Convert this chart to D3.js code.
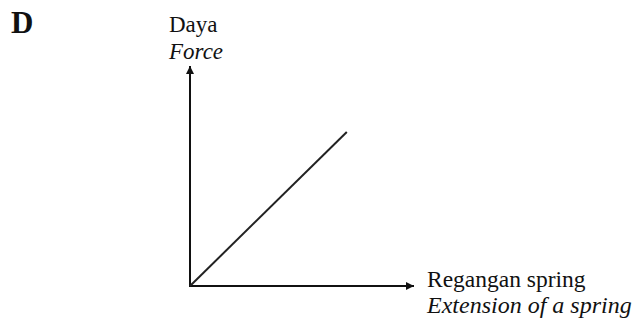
<!DOCTYPE html>
<html>
<head>
<meta charset="utf-8">
<script src="https://cdn.jsdelivr.net/npm/d3@7"></script>
<style>
  html, body { margin: 0; padding: 0; background: #fff; }
  text { font-family: "Liberation Serif", "DejaVu Serif", serif; fill: #111; }
</style>
</head>
<body>
<div id="container"></div>
<script>
const width = 635, height = 322;

// --- Data: a straight line through the origin (force proportional to extension)
const extension = [0, 7];
const force = [0, 7];
const axisMax = [10, 10];

const x = d3.scaleLinear().domain([0, axisMax[0]]).range([190, 414]);
const y = d3.scaleLinear().domain([0, axisMax[1]]).range([286, 66]);

const svg = d3.select("#container").append("svg")
  .attr("width", width).attr("height", height);

// arrowhead marker
svg.append("defs").append("marker")
  .attr("id", "arrow")
  .attr("viewBox", "0 0 10 10")
  .attr("refX", 10).attr("refY", 5)
  .attr("markerWidth", 13).attr("markerHeight", 8)
  .attr("markerUnits", "userSpaceOnUse")
  .attr("orient", "auto")
  .append("path").attr("d", "M0,0 L10,5 L0,10 Z").attr("fill", "#111");

// axes
svg.append("line")
  .attr("x1", x(0)).attr("y1", y(0)).attr("x2", x(axisMax[0])).attr("y2", y(0))
  .attr("stroke", "#111").attr("stroke-width", 2).attr("marker-end", "url(#arrow)");
svg.append("line")
  .attr("x1", x(0)).attr("y1", y(0) + 1).attr("x2", x(0)).attr("y2", y(axisMax[1]))
  .attr("stroke", "#111").attr("stroke-width", 2).attr("marker-end", "url(#arrow)");

// the graph line
svg.append("path")
  .datum(extension.map((e, i) => [e, force[i]]))
  .attr("d", d3.line().x(d => x(d[0])).y(d => y(d[1])))
  .attr("fill", "none").attr("stroke", "#222").attr("stroke-width", 2);

// option letter
svg.append("text").attr("x", 11).attr("y", 33)
  .style("font-size", "31px").style("font-weight", "700").text("D");

// y-axis label
svg.append("text").attr("x", 169).attr("y", 32).style("font-size", "23px").text("Daya");
svg.append("text").attr("x", 169).attr("y", 59).style("font-size", "23px")
  .style("font-style", "italic").text("Force");

// x-axis label
svg.append("text").attr("x", 427).attr("y", 287).style("font-size", "23.5px").text("Regangan spring");
svg.append("text").attr("x", 427).attr("y", 313).style("font-size", "24px")
  .style("font-style", "italic").text("Extension of a spring");
</script>
</body>
</html>
